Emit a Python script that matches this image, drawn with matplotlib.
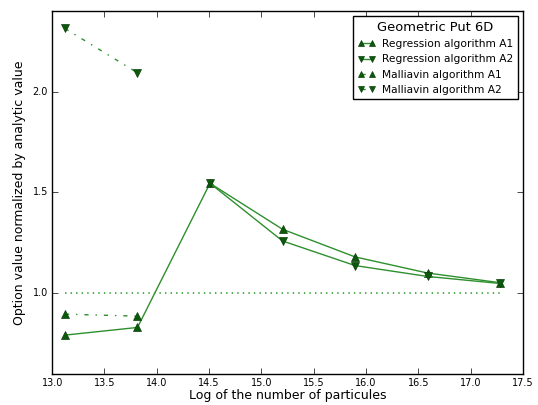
import numpy as np
import matplotlib
matplotlib.use('Agg')
import matplotlib.pyplot as plt

plt.style.use('classic')

# log of number of particles (5e5 ... 3.2e7)
x = np.log([5e5, 1e6, 2e6, 4e6, 8e6, 16e6, 32e6])

reg_a1 = [0.792, 0.830, 1.545, 1.317, 1.180, 1.100, 1.052]
reg_a2 = [np.nan, np.nan, 1.545, 1.259, 1.137, 1.083, 1.048]
mal_a1 = [0.896, 0.886]
mal_a2 = [2.313, 2.093]
analytic = [1.0] * len(x)

fig = plt.figure(figsize=(5.38, 4.05), dpi=100, facecolor='white')
ax = fig.add_axes([0.097, 0.077, 0.875, 0.896])

mk = dict(color='#2e8f2e', markerfacecolor='#0b5a0b', markeredgecolor='#0b3d0b', markersize=6)
ax.plot(x, reg_a1, '-', marker='^', label='Regression algorithm A1', **mk)
ax.plot(x, reg_a2, '-', marker='v', label='Regression algorithm A2', **mk)
ax.plot(x[:2], mal_a1, '-.', marker='^', label='Malliavin algorithm A1', **mk)
ax.plot(x[:2], mal_a2, '-.', marker='v', label='Malliavin algorithm A2', **mk)
ax.plot(x, analytic, ':', color='#2ea02e', lw=1.2)

ax.set_xlim(13.0, 17.5)
ax.set_ylim(0.6, 2.4)
ax.set_xticks(np.arange(13.0, 17.51, 0.5))
ax.set_yticks([1.0, 1.5, 2.0])
ax.tick_params(labelsize=7, pad=3)
ax.set_xlabel('Log of the number of particules', fontsize=9, labelpad=1)
ax.set_ylabel('Option value normalized by analytic value', fontsize=9)

leg = ax.legend(loc='upper right', title='Geometric Put 6D', fontsize=7.7, numpoints=2,
                markerscale=0.7, handlelength=1.7, handletextpad=0.6,
                labelspacing=0.5, borderpad=0.4, borderaxespad=0.5)
leg.get_title().set_fontsize(9.4)

fig.savefig('out.png', dpi=100, facecolor='white')
